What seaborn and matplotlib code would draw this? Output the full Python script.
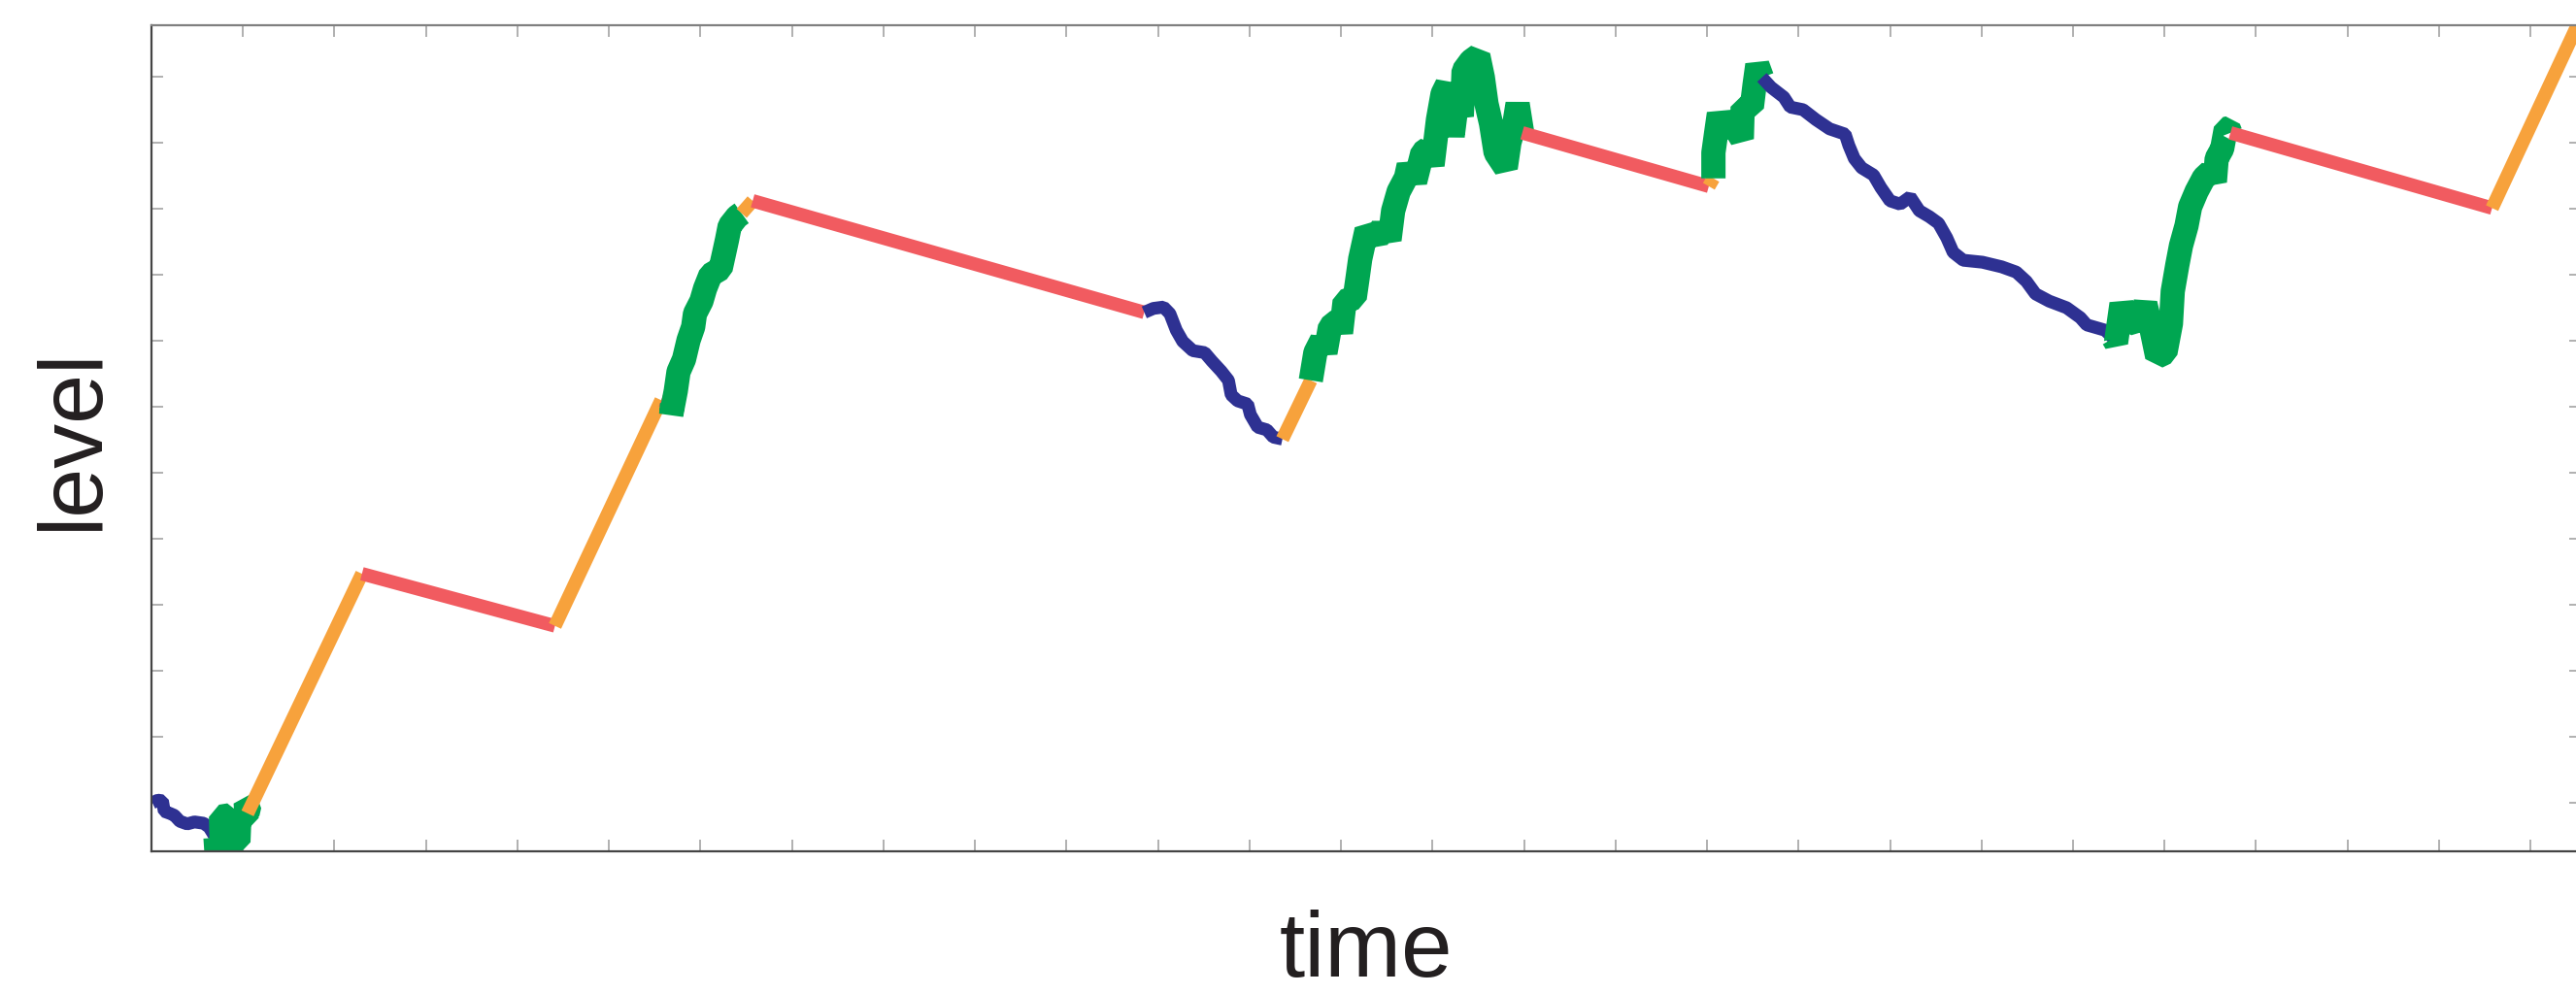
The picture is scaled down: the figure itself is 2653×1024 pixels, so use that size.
import numpy as np
import pandas as pd
import matplotlib
matplotlib.use("Agg")
import matplotlib.pyplot as plt
import seaborn as sns

# regime colours
colors = {
    "calm": "#2E3192",
    "volatile": "#00A651",
    "rise": "#F7A23C",
    "decay": "#F15B60",
}
widths = {"calm": 9.5, "volatile": 18.0, "rise": 10.0, "decay": 10.0}

# path pieces (time, level)
calm_1_t = [0.01, 0.07, 0.12, 0.14, 0.20, 0.25, 0.31, 0.39, 0.47, 0.57, 0.63, 0.67, 0.70]
calm_1_v = [0.00, 0.04, 0.03, -0.13, -0.16, -0.19, -0.28, -0.32, -0.29, -0.31, -0.37, -0.46, -0.53]

vol_1_t = [0.70, 0.71, 0.77, 0.76, 0.85, 0.87, 0.95, 0.96, 1.04, 1.03, 1.07, 1.05]
vol_1_v = [-0.53, -0.74, -0.75, -0.21, -0.19, -0.60, -0.59, -0.24, -0.24, 0.00, -0.04, -0.16]

rise_1_t = [1.05, 2.30]
rise_1_v = [-0.16, 3.47]
decay_1_t = [2.30, 4.41]
decay_1_v = [3.47, 2.68]
rise_2_t = [4.41, 5.57]
rise_2_v = [2.68, 6.10]
decay_2_t = [5.57, 5.69]
decay_2_v = [6.10, 6.04]

vol_2_t = [5.69, 5.68, 5.73, 5.76, 5.82, 5.87, 5.92, 5.94, 6.01, 6.05, 6.11, 6.22, 6.26,
           6.29, 6.32, 6.40, 6.45]
vol_2_v = [6.04, 5.88, 6.24, 6.53, 6.72, 7.01, 7.21, 7.41, 7.60, 7.79, 8.00, 8.09, 8.34,
           8.53, 8.74, 8.88, 8.93]

rise_3_t = [6.45, 6.57]
rise_3_v = [8.93, 9.12]
decay_3_t = [6.57, 10.85]
decay_3_v = [9.12, 7.43]

calm_2_t = [10.85, 10.95, 11.06, 11.13, 11.20, 11.27, 11.38, 11.51, 11.59, 11.69, 11.77,
            11.80, 11.87, 11.98, 12.01, 12.09, 12.19, 12.26, 12.36]
calm_2_v = [7.43, 7.49, 7.51, 7.41, 7.16, 6.99, 6.85, 6.82, 6.69, 6.54, 6.40,
            6.18, 6.09, 6.04, 5.88, 5.69, 5.65, 5.54, 5.51]

rise_4_t = [12.36, 12.67]
rise_4_v = [5.51, 6.40]

vol_3_t = [12.67, 12.72, 12.79, 12.83, 12.88, 12.97, 13.00, 13.04, 13.15, 13.18, 13.21,
           13.28, 13.39, 13.46, 13.53, 13.57, 13.63, 13.71, 13.74, 13.81, 13.89, 13.95,
           14.00, 14.06, 14.11, 14.16, 14.22, 14.27, 14.32, 14.34, 14.42, 14.50, 14.55,
           14.59, 14.64, 14.69, 14.80, 14.84, 14.89, 14.93, 14.98]
vol_3_v = [6.40, 6.82, 7.01, 6.82, 7.21, 7.31, 7.12, 7.60, 7.65, 7.94, 8.24,
           8.68, 8.53, 8.74, 8.53, 8.97, 9.26, 9.47, 9.66, 9.41, 9.85, 9.91,
           9.66, 10.35, 10.74, 10.88, 10.10, 10.65, 10.40, 11.09, 11.24, 11.32, 10.99,
           10.59, 10.29, 9.85, 9.62, 10.00, 10.25, 10.59, 10.15]

decay_4_t = [14.98, 17.02]
decay_4_v = [10.15, 9.34]
rise_5_t = [17.02, 17.07]
rise_5_v = [9.34, 9.46]

vol_4_t = [17.07, 17.07, 17.10, 17.13, 17.20, 17.28, 17.38, 17.39, 17.49, 17.52, 17.55, 17.60]
vol_4_v = [9.46, 9.85, 10.15, 10.44, 10.15, 10.29, 10.06, 10.54, 10.54, 10.88, 11.18, 10.99]

calm_3_t = [17.60, 17.70, 17.84, 17.91, 18.05, 18.19, 18.34, 18.51, 18.55, 18.61, 18.69,
            18.82, 18.90, 19.00, 19.11, 19.22, 19.32, 19.43, 19.53, 19.62, 19.69, 19.80,
            20.01, 20.22, 20.38, 20.49, 20.59, 20.74, 20.93, 21.08, 21.15, 21.35, 21.44]
calm_3_v = [10.99, 10.84, 10.69, 10.54, 10.50, 10.35, 10.21, 10.13, 9.96, 9.76, 9.62,
            9.51, 9.32, 9.12, 9.07, 9.18, 8.97, 8.88, 8.78, 8.56, 8.34, 8.22,
            8.19, 8.12, 8.04, 7.90, 7.71, 7.60, 7.50, 7.35, 7.24, 7.16, 7.04]

vol_5_t = [21.44, 21.47, 21.53, 21.60, 21.72, 21.79, 21.86, 21.92, 22.01, 22.07, 22.09,
           22.14, 22.18, 22.24, 22.28, 22.35, 22.43, 22.50, 22.55, 22.57, 22.63, 22.67,
           22.70, 22.72]
vol_5_v = [7.04, 6.97, 7.56, 7.26, 7.31, 7.56, 7.16, 6.76, 6.82, 7.26, 7.75,
           8.15, 8.44, 8.74, 9.03, 9.26, 9.47, 9.56, 9.41, 9.76, 9.91, 10.21,
           10.22, 10.15]

decay_5_t = [22.72, 25.58]
decay_5_v = [10.15, 9.01]
rise_6_t = [25.58, 26.59]
rise_6_v = [9.01, 12.01]

segments = [
    ("calm", calm_1_t, calm_1_v),
    ("volatile", vol_1_t, vol_1_v),
    ("rise", rise_1_t, rise_1_v),
    ("decay", decay_1_t, decay_1_v),
    ("rise", rise_2_t, rise_2_v),
    ("decay", decay_2_t, decay_2_v),
    ("volatile", vol_2_t, vol_2_v),
    ("rise", rise_3_t, rise_3_v),
    ("decay", decay_3_t, decay_3_v),
    ("calm", calm_2_t, calm_2_v),
    ("rise", rise_4_t, rise_4_v),
    ("volatile", vol_3_t, vol_3_v),
    ("decay", decay_4_t, decay_4_v),
    ("rise", rise_5_t, rise_5_v),
    ("volatile", vol_4_t, vol_4_v),
    ("calm", calm_3_t, calm_3_v),
    ("volatile", vol_5_t, vol_5_v),
    ("decay", decay_5_t, decay_5_v),
    ("rise", rise_6_t, rise_6_v),
]

rows = []
for i, (regime, ts, vs) in enumerate(segments):
    for t, v in zip(ts, vs):
        rows.append({"seg": i, "regime": regime, "time": t, "level": v})
df = pd.DataFrame(rows)

sns.set_style("white")
plt.rcParams["font.family"] = ["Liberation Sans", "DejaVu Sans"]

fig = plt.figure(figsize=(26.53, 10.24), dpi=100)
ax = fig.add_axes([156 / 2653, 147 / 1024, 2502 / 2653, 851 / 1024])

for i, (regime, _, _) in enumerate(segments):
    part = df[df["seg"] == i]
    sns.lineplot(data=part, x="time", y="level", sort=False, estimator=None,
                 color=colors[regime], linewidth=widths[regime], ax=ax,
                 solid_capstyle="butt", solid_joinstyle="bevel", zorder=2 + i * 0.01)

ax.set_xlim(0, 26.55)
ax.set_ylim(-0.735, 11.78)
ax.set_xticks(np.arange(1, 27))
ax.set_yticks(np.arange(0, 12))
ax.set_xticklabels([])
ax.set_yticklabels([])
ax.tick_params(axis="both", direction="in", length=8.5, width=1.4, color="#b0b0b0",
               top=True, right=True, bottom=True, left=True)

for side in ["left", "bottom"]:
    ax.spines[side].set_color("#444444")
    ax.spines[side].set_linewidth(1.6)
ax.spines["top"].set_color("#808080")
ax.spines["top"].set_linewidth(1.6)
ax.spines["right"].set_visible(False)

ax.set_xlabel("time", fontsize=68, color="#231F20", va="baseline")
ax.xaxis.set_label_coords(0.5, -0.152)
ax.set_ylabel("level", fontsize=66, color="#231F20", va="baseline")
ax.yaxis.set_label_coords(-0.0224, 0.5)

fig.savefig("out.png", dpi=100)
